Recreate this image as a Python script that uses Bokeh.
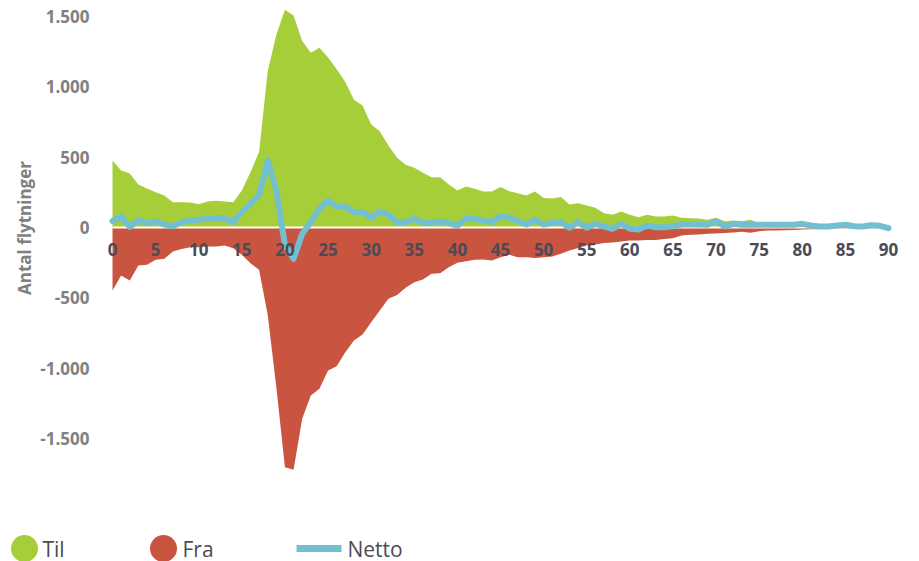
import math
from bokeh.plotting import figure
from bokeh.models import Range1d
from bokeh.embed import file_html
from bokeh.resources import INLINE
from bokeh.core.properties import value

# ---------------- data ----------------
ages = list(range(91))

til = [476, 405, 384, 305, 277, 250, 228, 180, 180, 177,
       166, 185, 190, 185, 180, 263, 393, 536, 1110, 1370,
       1548, 1507, 1325, 1242, 1278, 1208, 1125, 1035, 908, 867,
       732, 685, 583, 496, 446, 424, 389, 358, 358, 306,
       263, 292, 275, 256, 256, 287, 258, 244, 228, 256,
       209, 207, 216, 164, 173, 156, 140, 102, 90, 114,
       90, 73, 90, 78, 78, 85, 69, 66, 64, 55,
       69, 45, 50, 45, 55, 31, 33, 31, 30, 28,
       30, 22, 15, 12, 17, 22, 14, 12, 18, 15,
       6]

fra = [-448, -341, -377, -270, -265, -230, -223, -171, -152, -140,
       -140, -135, -135, -128, -147, -194, -255, -300, -620, -1135,
       -1704, -1723, -1360, -1194, -1147, -1017, -986, -886, -803, -761,
       -673, -590, -507, -479, -429, -389, -370, -329, -325, -282,
       -251, -240, -230, -227, -235, -211, -194, -211, -211, -216,
       -211, -206, -187, -164, -145, -128, -121, -111, -107, -100,
       -92, -92, -88, -88, -81, -76, -57, -52, -50, -45,
       -42, -40, -36, -30, -38, -26, -22, -21, -20, -17,
       -14, -12, -10, -9, -8, -8, -7, -6, -6, -5,
       -4]

netto = [45, 78, 5, 50, 31, 43, 21, 9, 38, 50,
         55, 62, 66, 66, 38, 109, 168, 232, 476, 263,
         -125, -223, -45, 38, 133, 190, 150, 149, 109, 109,
         69, 114, 92, 38, 38, 62, 33, 33, 43, 31,
         12, 65, 60, 50, 38, 80, 69, 45, 21, 55,
         21, 33, 38, -2, 38, -2, 26, 7, -9, 26,
         -9, -14, 14, 2, 2, 9, 21, 21, 21, 19,
         45, 7, 26, 19, 19, 19, 19, 19, 19, 19,
         26, 14, 7, 7, 14, 19, 9, 7, 16, 12,
         -5]

x_ticks = list(range(0, 91, 5))
x_tick_labels = [str(t) for t in x_ticks]
y_ticks = [-1500, -1000, -500, 0, 500, 1000, 1500]
y_tick_labels = ["-1.500", "-1.000", "-500", "0", "500", "1.000", "1.500"]
series_names = ["Til", "Fra", "Netto"]
y_title = "Antal flytninger"

# ---------------- style ----------------
FONT = "Open Sans"
GREEN = "#a6ce39"
RED = "#c9543f"
BLUE = "#72bfcf"
YLAB = "#808080"
XLAB = "#4b4b57"

W, H = 910, 561
p = figure(width=W, height=H,
           x_range=Range1d(-12.99, 92.55), y_range=Range1d(-2374.4, 1613.7),
           x_axis_type=None,
           output_backend="svg", toolbar_location=None, min_border=0)
p.outline_line_color = None
p.ygrid.visible = False
p.background_fill_color = "white"
p.border_fill_color = "white"
# pixel-space ranges for the legend strip and the axis title
p.extra_x_ranges = {"px": Range1d(0, W)}
p.extra_y_ranges = {"px": Range1d(H, 0)}

yax = p.yaxis[0]
yax.fixed_location = -1.16
yax.ticker = y_ticks
yax.major_label_overrides = {t: l for t, l in zip(y_ticks, y_tick_labels)}
yax.axis_line_color = None
yax.major_tick_line_color = None
yax.minor_tick_line_color = None
yax.major_tick_out = 0
yax.major_tick_in = 0
yax.major_label_standoff = 13
yax.major_label_text_font = FONT
yax.major_label_text_font_style = "bold"
yax.major_label_text_font_size = "17px"
yax.major_label_text_color = YLAB

zeros = [0] * len(ages)
p.varea(x=ages, y1=zeros, y2=til, fill_color=GREEN)
p.varea(x=ages, y1=fra, y2=zeros, fill_color=RED)
p.line(x=ages, y=zeros, line_color="white", line_width=2)
p.line(x=ages, y=netto, line_color=BLUE, line_width=6,
       line_join="round", line_cap="round")

p.text(x=x_ticks, y=[0] * len(x_ticks), text=x_tick_labels,
       text_align="center", text_baseline="middle", y_offset=22,
       text_font=value(FONT), text_font_style="bold",
       text_font_size="17px", text_color=XLAB)

# axis title
p.text(x=[24], y=[227.5], text=[y_title], angle=math.pi / 2,
       x_range_name="px", y_range_name="px",
       text_align="center", text_baseline="middle",
       text_font=value(FONT), text_font_style="bold",
       text_font_size="17px", text_color=YLAB)

# legend
p.scatter(x=[24, 163], y=[548, 548], size=27, color=[GREEN, RED], line_color=None,
          x_range_name="px", y_range_name="px")
p.line(x=[296, 341], y=[548, 548], line_width=7, line_color=BLUE,
       x_range_name="px", y_range_name="px")
p.text(x=[42, 182, 347], y=[548, 548, 548], text=series_names,
       x_range_name="px", y_range_name="px",
       text_align="left", text_baseline="middle",
       text_font=value(FONT), text_font_size="21px", text_color=XLAB)

open("out.html", "w").write(file_html(p, INLINE))
